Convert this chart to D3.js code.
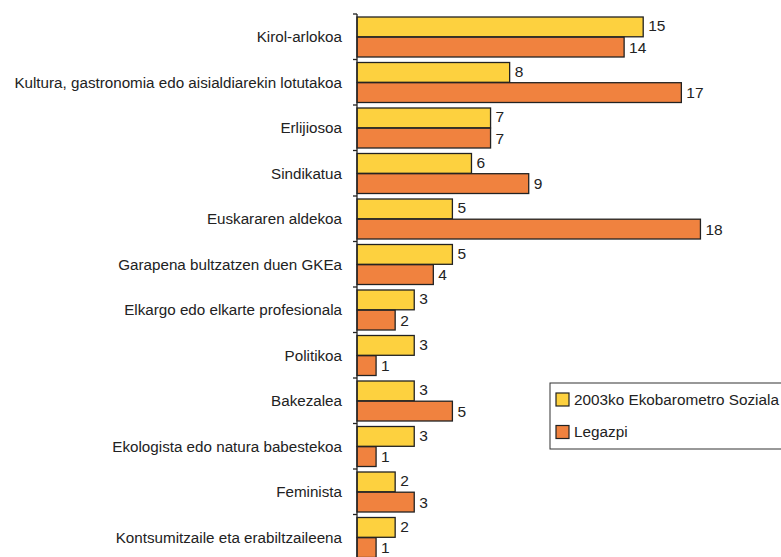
<!DOCTYPE html>
<html>
<head>
<meta charset="utf-8">
<script src="https://cdn.jsdelivr.net/npm/d3@7"></script>
<style>
  body { margin: 0; background: #fff; }
  svg text { font-family: "Liberation Sans", Arial, Helvetica, sans-serif; fill: #222; }
</style>
</head>
<body>
<div id="chart"></div>
<script>
// data
const categories = [
  "Kirol-arlokoa",
  "Kultura, gastronomia edo aisialdiarekin lotutakoa",
  "Erlijiosoa",
  "Sindikatua",
  "Euskararen aldekoa",
  "Garapena bultzatzen duen GKEa",
  "Elkargo edo elkarte profesionala",
  "Politikoa",
  "Bakezalea",
  "Ekologista edo natura babestekoa",
  "Feminista",
  "Kontsumitzaile eta erabiltzaileena"
];
const ekobarometro = [15, 8, 7, 6, 5, 5, 3, 3, 3, 3, 2, 2];
const legazpi = [14, 17, 7, 9, 18, 4, 2, 1, 5, 1, 3, 1];
const seriesNames = ["2003ko Ekobarometro Soziala", "Legazpi"];
const colors = ["#fdd13f", "#f0823f"];

const width = 781, height = 557;
const margin = {left: 357, top: 14};

const svg = d3.select("#chart").append("svg")
  .attr("width", width)
  .attr("height", height);

const yScale = d3.scaleBand()
  .domain(categories)
  .range([margin.top, margin.top + 45.5 * categories.length]);

const subScale = d3.scaleBand()
  .domain([0, 1])
  .range([3, 43])
  .paddingInner(0.02);

const xScale = d3.scaleLinear()
  .domain([0, 18])
  .range([margin.left, margin.left + 18 * 19.08]);

const rows = categories.map((c, i) => ({cat: c, vals: [ekobarometro[i], legazpi[i]]}));

const groups = svg.selectAll("g.row")
  .data(rows)
  .enter()
  .append("g")
  .attr("class", "row")
  .attr("transform", d => `translate(0,${yScale(d.cat)})`);

groups.selectAll("rect")
  .data(d => d.vals)
  .enter()
  .append("rect")
  .attr("x", xScale(0))
  .attr("y", (d, j) => subScale(j))
  .attr("width", d => xScale(d) - xScale(0))
  .attr("height", subScale.bandwidth())
  .attr("fill", (d, j) => colors[j])
  .attr("stroke", "#222")
  .attr("stroke-width", 1.3);

groups.selectAll("text.val")
  .data(d => d.vals)
  .enter()
  .append("text")
  .attr("class", "val")
  .attr("x", d => xScale(d) + 5)
  .attr("y", (d, j) => subScale(j) + subScale.bandwidth() / 2 - (j === 0 ? 1 : 0))
  .attr("dy", "0.35em")
  .attr("font-size", "15.5px")
  .text(d => d);

// category axis with ticks at the band boundaries
const axis = svg.append("g");
axis.append("line")
  .attr("x1", margin.left).attr("x2", margin.left)
  .attr("y1", yScale.range()[0]).attr("y2", yScale.range()[1])
  .attr("stroke", "#222").attr("stroke-width", 1.3);
axis.selectAll("line.tick")
  .data(categories)
  .enter()
  .append("line")
  .attr("class", "tick")
  .attr("x1", margin.left - 4).attr("x2", margin.left)
  .attr("y1", d => yScale(d)).attr("y2", d => yScale(d))
  .attr("stroke", "#222").attr("stroke-width", 1.3);
axis.selectAll("text")
  .data(categories)
  .enter()
  .append("text")
  .attr("x", margin.left - 15)
  .attr("y", d => yScale(d) + yScale.bandwidth() / 2)
  .attr("dy", "0.35em")
  .attr("text-anchor", "end")
  .attr("font-size", "15.2px")
  .text(d => d);

// legend
const legend = svg.append("g").attr("transform", "translate(550,383)");
legend.append("rect")
  .attr("width", 240).attr("height", 66)
  .attr("fill", "#fff").attr("stroke", "#333").attr("stroke-width", 1);
const items = legend.selectAll("g.item")
  .data(seriesNames)
  .enter()
  .append("g")
  .attr("class", "item")
  .attr("transform", (d, i) => `translate(6,${10 + i * 32.5})`);
items.append("rect")
  .attr("width", 13).attr("height", 13)
  .attr("fill", (d, i) => colors[i])
  .attr("stroke", "#222").attr("stroke-width", 1.2);
items.append("text")
  .attr("x", 18).attr("y", 6.5).attr("dy", "0.35em")
  .attr("font-size", "15.3px")
  .text(d => d);
</script>
</body>
</html>
